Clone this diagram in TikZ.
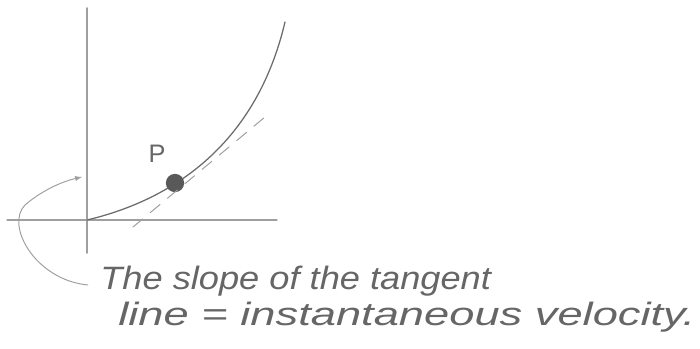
\documentclass[tikz,border=0pt]{standalone}
\usepackage{fontspec}
\setmainfont{Liberation Sans}
\usetikzlibrary{positioning}
\tikzset{
  pencil/.style={draw=gray!75, line width=0.9pt, line cap=round},
  handtext/.style={text=gray!80!black, font=\itshape\fontsize{23}{27}\selectfont, inner sep=0pt, anchor=base west}
}
\begin{document}
\begin{tikzpicture}[>=latex, x=0.025cm, y=-0.025cm]
        \useasboundingbox (0,0) rectangle (700,349);
        % Axes
        \coordinate (o) at (87,220);
        \coordinate (ytop) at (87,8);
        \coordinate (ybot) at (87,253);
        \coordinate (xleft) at (7,220);
        \coordinate (xright) at (277,220);
        \draw[pencil, line width=1.3pt] (ybot) -- (ytop);
        \draw[pencil] (xleft) -- (xright);

        % Curve and point
        \coordinate (ctop) at (285,22);
        \draw[pencil, draw=gray!85!black] (o) .. controls (150,205) and (252,162) .. (ctop);
        \node[circle, fill=gray!70!black, minimum size=13pt, inner sep=0pt] (p) at (175,183) {};
        \node[text=gray!80!black, font=\fontsize{18}{20}\selectfont] (plabel) at (157,154) {P};

        % Tangent
        \coordinate (t1) at (133,227);
        \coordinate (t2) at (265,117);
        \draw[pencil, dashed, dash pattern=on 9pt off 7pt, line width=0.7pt] (t1) -- (t2);

        % Note
        \node[handtext, xscale=1.12] (note1) at (100,289) {The slope of the tangent};
        \node[handtext, xscale=1.4] (note2) at (118,325) {line = instantaneous velocity.};
        \coordinate (tail) at (88,285);
        \draw[pencil, ->, line width=0.7pt] (tail) .. controls (35,280) and (5,225) .. (25,205) .. controls (40,192) and (60,182) .. (82,177);
\end{tikzpicture}
\end{document}
